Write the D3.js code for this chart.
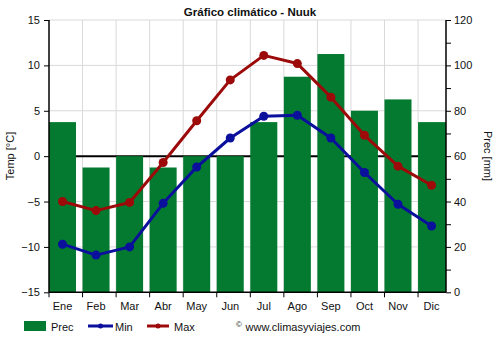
<!DOCTYPE html>
<html><head><meta charset="utf-8">
<script src="https://cdn.jsdelivr.net/npm/d3@7"></script>
<style>body{margin:0;background:#fff}svg{display:block;font-family:"Liberation Sans",Arial,sans-serif}</style>
</head><body><svg id="c" width="500" height="350"></svg>
<script>
const months = ["Ene","Feb","Mar","Abr","May","Jun","Jul","Ago","Sep","Oct","Nov","Dic"];
const prec = [75,55,60,55,60,60,75,95,105,80,85,75];
const tmin = [-9.7,-10.9,-10.0,-5.2,-1.2,2.0,4.4,4.5,2.0,-1.8,-5.3,-7.7];
const tmax = [-5.0,-6.0,-5.1,-0.7,3.9,8.4,11.1,10.2,6.5,2.3,-1.1,-3.2];
const tempTicks = [-15,-10,-5,0,5,10,15];
const precTicks = [0,20,40,60,80,100,120];
const precMinor = [0,10,20,30,40,50,60,70,80,90,100,110,120];

const svg = d3.select("#c");
const L = 49, R = 446, T = 20, B = 292.3;
const x = d3.scaleBand().domain(months).range([L, L + 12*33.55]).padding(0);
const bw = 27;
const cx = m => x(m) + bw/2;
const yT = d3.scaleLinear().domain([-15,15]).range([B,T]);
const yP = d3.scaleLinear().domain([0,120]).range([B,T]);

// grid
const g = svg.append("g");
g.selectAll("line.h").data(tempTicks.filter(t=>t!==0 && t!==-15)).enter().append("line")
  .attr("x1",L).attr("x2",R).attr("y1",d=>yT(d)).attr("y2",d=>yT(d))
  .attr("stroke","#d9d9d9").attr("stroke-width",1);
g.selectAll("line.v").data(months.slice(1)).enter().append("line")
  .attr("x1",d=>x(d)).attr("x2",d=>x(d)).attr("y1",T).attr("y2",B)
  .attr("stroke","#d9d9d9").attr("stroke-width",1);
// zero line
g.append("line").attr("x1",L).attr("x2",R).attr("y1",yT(0)).attr("y2",yT(0))
  .attr("stroke","#000").attr("stroke-width",2);

// bars
svg.append("g").selectAll("rect").data(months).enter().append("rect")
  .attr("x",d=>x(d)).attr("width",(d,i)=> i===11 ? R - x(d) : bw)
  .attr("y",(d,i)=>yP(prec[i])).attr("height",(d,i)=>B - yP(prec[i]))
  .attr("fill","#037a2f");

// lines
function series(vals, color){
  const line = d3.line().x((d,i)=>cx(months[i])).y(d=>yT(d));
  svg.append("path").datum(vals).attr("d",line).attr("fill","none")
    .attr("stroke",color).attr("stroke-width",3).attr("stroke-linejoin","round");
  svg.append("g").selectAll("circle").data(vals).enter().append("circle")
    .attr("cx",(d,i)=>cx(months[i])).attr("cy",d=>yT(d)).attr("r",4.5).attr("fill",color);
}
series(tmin, "#0a0f9c");
series(tmax, "#9c0a0a");

// axes
const axL = d3.axisLeft(yT).tickValues(tempTicks).tickSize(5).tickPadding(4);
const gl = svg.append("g").attr("transform",`translate(${L},0)`).call(axL);
const axR = d3.axisRight(yP).tickValues(precMinor).tickSize(5).tickPadding(3)
  .tickFormat(d => precTicks.includes(d) ? d : "");
const gr = svg.append("g").attr("transform",`translate(${R},0)`).call(axR);
const axB = d3.axisBottom(x).tickSize(0).tickPadding(10);
const gb = svg.append("g").attr("transform",`translate(0,${B})`).call(axB);
gb.selectAll(".tick text").attr("x", bw/2 - x.bandwidth()/2);
gb.select(".domain").remove();
svg.append("line").attr("x1",L).attr("x2",R).attr("y1",B).attr("y2",B).attr("stroke","#000").attr("stroke-width",1.5);
svg.append("g").selectAll("line").data(months).enter().append("line")
  .attr("x1",d=>x(d)).attr("x2",d=>x(d)).attr("y1",B).attr("y2",B+5).attr("stroke","#000");
[gl,gr,gb].forEach(a=>{
  a.selectAll("text").attr("font-size",11).attr("fill","#111").attr("font-family","'Liberation Sans',Arial,sans-serif");
  a.select(".domain").attr("stroke","#000").attr("stroke-width",1.5);
});
gl.select(".domain").attr("d",`M0,${T}V${B}`);
gr.select(".domain").attr("d",`M0,${T}V${B}`);

// titles
svg.append("text").attr("x",250).attr("y",16).attr("text-anchor","middle")
  .attr("font-size",11.5).attr("font-weight","bold").attr("fill","#111").text("Gráfico climático - Nuuk");
svg.append("text").attr("transform","translate(14,156) rotate(-90)").attr("text-anchor","middle")
  .attr("font-size",11).attr("fill","#111").text("Temp [°C]");
svg.append("text").attr("transform","translate(484,156) rotate(90)").attr("text-anchor","middle")
  .attr("font-size",11).attr("fill","#111").text("Prec [mm]");

// legend
const lg = svg.append("g");
lg.append("rect").attr("x",24).attr("y",321).attr("width",22).attr("height",10).attr("fill","#037a2f");
lg.append("text").attr("x",51).attr("y",330.5).attr("font-size",11).attr("fill","#111").text("Prec");
lg.append("line").attr("x1",88).attr("x2",113).attr("y1",326).attr("y2",326).attr("stroke","#0a0f9c").attr("stroke-width",3);
lg.append("circle").attr("cx",100.5).attr("cy",326).attr("r",2.5).attr("fill","#0a0f9c");
lg.append("text").attr("x",115).attr("y",330.5).attr("font-size",11).attr("fill","#111").text("Min");
lg.append("line").attr("x1",147).attr("x2",169).attr("y1",326).attr("y2",326).attr("stroke","#9c0a0a").attr("stroke-width",3);
lg.append("circle").attr("cx",158).attr("cy",326).attr("r",2.5).attr("fill","#9c0a0a");
lg.append("text").attr("x",174).attr("y",330.5).attr("font-size",11).attr("fill","#111").text("Max");
lg.append("text").attr("x",236).attr("y",327).attr("font-size",8).attr("fill","#111").text("©");
lg.append("text").attr("x",245.5).attr("y",330.5).attr("font-size",11).attr("fill","#111").text("www.climasyviajes.com");
</script></body></html>
